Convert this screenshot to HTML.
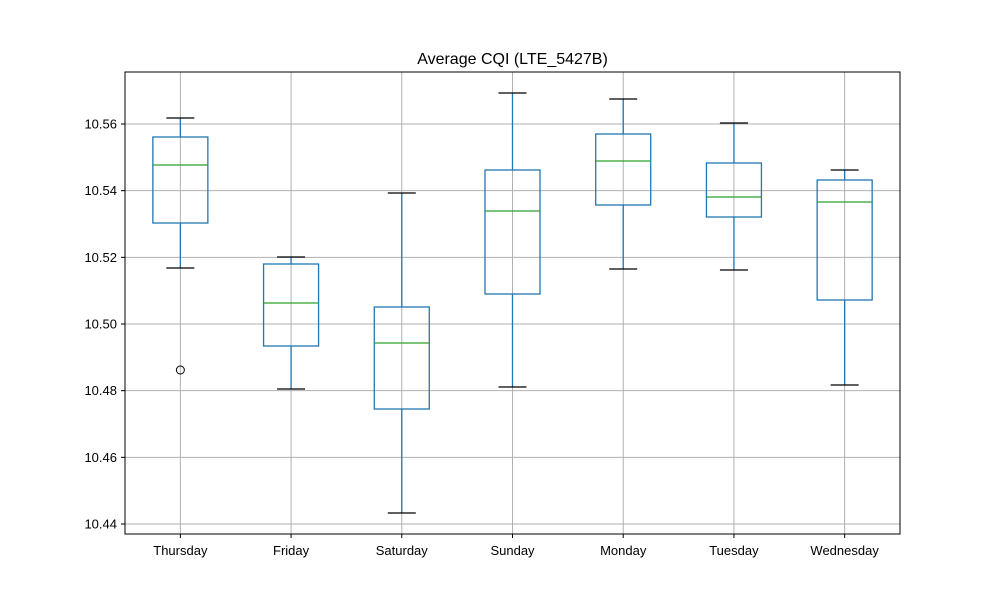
<!DOCTYPE html>
<html><head><meta charset="utf-8"><style>
body{margin:0;background:#fff;font-family:"Liberation Sans","DejaVu Sans",sans-serif;}
svg{display:block}
</style></head><body>
<svg id="chart" width="1000" height="600" xmlns="http://www.w3.org/2000/svg"></svg>
<script>
const categories=["Thursday","Friday","Saturday","Sunday","Monday","Tuesday","Wednesday"];
const whiskerHigh=[10.5618,10.5201,10.5393,10.5693,10.5675,10.5603,10.5462];
const q3Values=[10.5561,10.5180,10.5051,10.5462,10.5570,10.5483,10.5432];
const medianValues=[10.5477,10.5063,10.4943,10.5339,10.5489,10.5381,10.5366];
const q1Values=[10.5303,10.4934,10.4745,10.5090,10.5357,10.5321,10.5072];
const whiskerLow=[10.5168,10.4805,10.4433,10.4811,10.5165,10.5162,10.4817];
const outliers=[[10.4862],[],[],[],[],[],[]];
const yTicks=[10.44,10.46,10.48,10.50,10.52,10.54,10.56];
const yMin=10.4370,yMax=10.5756;
const L=125,R=900,T=72,B=534;
const svg=document.getElementById('chart');
const NS='http://www.w3.org/2000/svg';
function y(v){return B-(v-yMin)/(yMax-yMin)*(B-T);}
function x(i){return L+(R-L)*(i+0.5)/categories.length;}
function mk(tag,attrs,name,parent){const e=document.createElementNS(NS,tag);for(const k in attrs)e.setAttribute(k,attrs[k]);


(parent||svg).appendChild(e);return e;}
mk('rect',{x:0,y:0,width:1000,height:600,fill:'#fff'},'background');
const grid=mk('g',{},'grid');
yTicks.forEach(t=>{mk('line',{x1:L,x2:R,y1:y(t),y2:y(t),stroke:'#b0b0b0','stroke-width':1},'y-gridline',grid);
mk('line',{x1:L-4,x2:L,y1:y(t),y2:y(t),stroke:'#000'},'y-tick',grid);
const tx=mk('text',{x:L-8,y:y(t)+4.5,'text-anchor':'end','font-size':13},'y-tick-label',grid);tx.textContent=t.toFixed(2);});
categories.forEach((c,i)=>{mk('line',{x1:x(i),x2:x(i),y1:T,y2:B,stroke:'#b0b0b0'},'x-gridline',grid);
mk('line',{x1:x(i),x2:x(i),y1:B,y2:B+4,stroke:'#000'},'x-tick',grid);
const tx=mk('text',{x:x(i),y:B+21,'text-anchor':'middle','font-size':13},'x-tick-label',grid);tx.textContent=c;});
const bw=55,cw=28;
categories.forEach((c,i)=>{const g=mk('g',{},'box-'+c.toLowerCase());const cx=x(i);
mk('line',{x1:cx,x2:cx,y1:y(q3Values[i]),y2:y(whiskerHigh[i]),stroke:'#1f77b4','stroke-width':1.3},'upper-whisker',g);
mk('line',{x1:cx,x2:cx,y1:y(q1Values[i]),y2:y(whiskerLow[i]),stroke:'#1f77b4','stroke-width':1.3},'lower-whisker',g);
mk('line',{x1:cx-cw/2,x2:cx+cw/2,y1:y(whiskerHigh[i]),y2:y(whiskerHigh[i]),stroke:'#000','stroke-width':1.3},'upper-cap',g);
mk('line',{x1:cx-cw/2,x2:cx+cw/2,y1:y(whiskerLow[i]),y2:y(whiskerLow[i]),stroke:'#000','stroke-width':1.3},'lower-cap',g);
mk('rect',{x:cx-bw/2,y:y(q3Values[i]),width:bw,height:y(q1Values[i])-y(q3Values[i]),fill:'none',stroke:'#1f77b4','stroke-width':1.3},'iqr-box',g);
mk('line',{x1:cx-bw/2,x2:cx+bw/2,y1:y(medianValues[i]),y2:y(medianValues[i]),stroke:'#2ca02c','stroke-width':1.3},'median-line',g);
outliers[i].forEach(v=>mk('circle',{cx:cx,cy:y(v),r:4,fill:'none',stroke:'#000'},'outlier',g));});
mk('rect',{x:L,y:T,width:R-L,height:B-T,fill:'none',stroke:'#000','stroke-width':1},'plot-frame');
const title=mk('text',{x:(L+R)/2,y:64,'text-anchor':'middle','font-size':16},'chart-title');title.textContent='Average CQI (LTE_5427B)';
</script>
</body></html>
